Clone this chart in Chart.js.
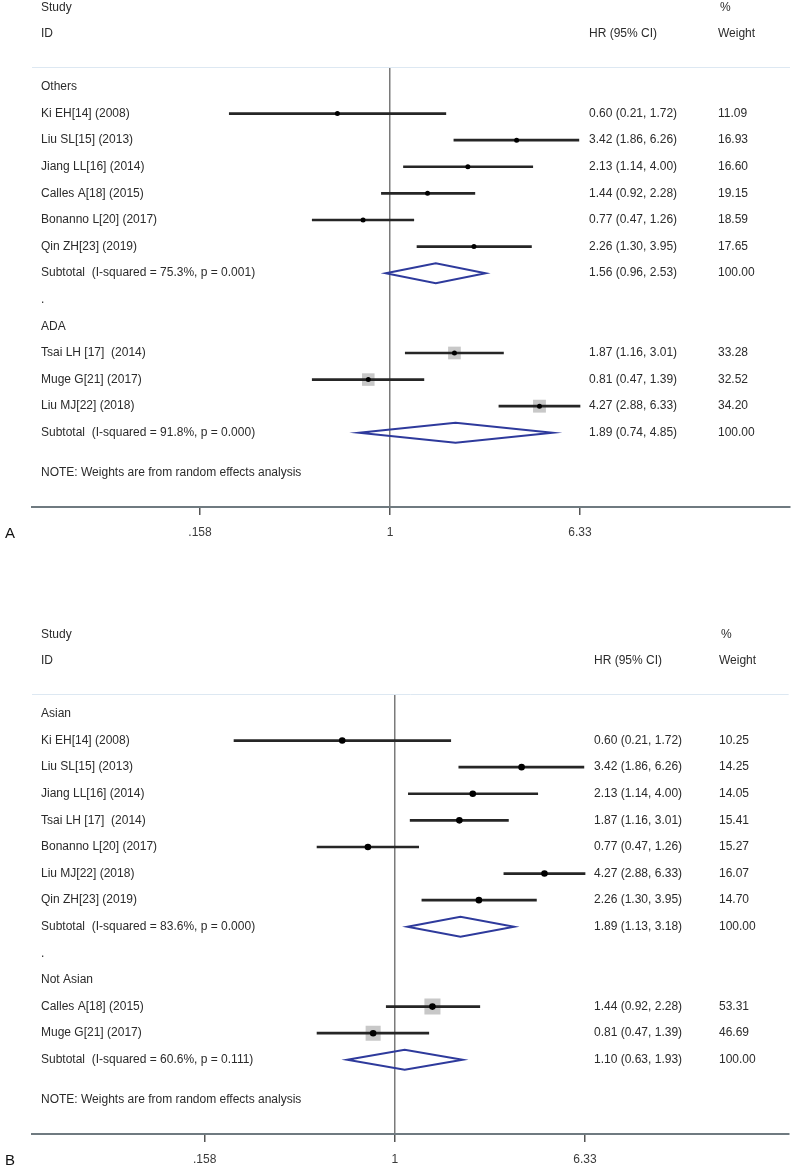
<!DOCTYPE html>
<html>
<head>
<meta charset="utf-8">
<script src="https://cdn.jsdelivr.net/npm/chart.js@4.4.0/dist/chart.umd.min.js"></script>
<style>
  body { margin: 0; background: #fff; width: 800px; height: 1170px; overflow: hidden; position: relative; }
  canvas { position: absolute; left: 0; }
  #chartA { top: 0; }
  #chartB { top: 627px; }
</style>
</head>
<body>
<canvas id="chartA" width="800" height="543"></canvas>
<canvas id="chartB" width="800" height="543"></canvas>
<script>
// panel A : subgroup by criteria
var groupsA = ['Others', 'ADA'];
var studyA = ['Ki EH[14] (2008)', 'Liu SL[15] (2013)', 'Jiang LL[16] (2014)', 'Calles A[18] (2015)',
  'Bonanno L[20] (2017)', 'Qin ZH[23] (2019)', 'Tsai LH [17]  (2014)', 'Muge G[21] (2017)', 'Liu MJ[22] (2018)'];
var groupOfA = [0, 0, 0, 0, 0, 0, 1, 1, 1];
var hrA = [0.60, 3.42, 2.13, 1.44, 0.77, 2.26, 1.87, 0.81, 4.27];
var loA = [0.21, 1.86, 1.14, 0.92, 0.47, 1.30, 1.16, 0.47, 2.88];
var hiA = [1.72, 6.26, 4.00, 2.28, 1.26, 3.95, 3.01, 1.39, 6.33];
var weightA = [11.09, 16.93, 16.60, 19.15, 18.59, 17.65, 33.28, 32.52, 34.20];
var subLabelA = ['Subtotal  (I-squared = 75.3%, p = 0.001)', 'Subtotal  (I-squared = 91.8%, p = 0.000)'];
var subHrA = [1.56, 1.89];
var subLoA = [0.96, 0.74];
var subHiA = [2.53, 4.85];

// panel B : subgroup by ethnicity
var groupsB = ['Asian', 'Not Asian'];
var studyB = ['Ki EH[14] (2008)', 'Liu SL[15] (2013)', 'Jiang LL[16] (2014)', 'Tsai LH [17]  (2014)',
  'Bonanno L[20] (2017)', 'Liu MJ[22] (2018)', 'Qin ZH[23] (2019)', 'Calles A[18] (2015)', 'Muge G[21] (2017)'];
var groupOfB = [0, 0, 0, 0, 0, 0, 0, 1, 1];
var hrB = [0.60, 3.42, 2.13, 1.87, 0.77, 4.27, 2.26, 1.44, 0.81];
var loB = [0.21, 1.86, 1.14, 1.16, 0.47, 2.88, 1.30, 0.92, 0.47];
var hiB = [1.72, 6.26, 4.00, 3.01, 1.26, 6.33, 3.95, 2.28, 1.39];
var weightB = [10.25, 14.25, 14.05, 15.41, 15.27, 16.07, 14.70, 53.31, 46.69];
var subLabelB = ['Subtotal  (I-squared = 83.6%, p = 0.000)', 'Subtotal  (I-squared = 60.6%, p = 0.111)'];
var subHrB = [1.89, 1.10];
var subLoB = [1.13, 0.63];
var subHiB = [3.18, 1.93];

var axisTicks = [0.158, 1, 6.33];
var noteText = 'NOTE: Weights are from random effects analysis';

var FONT = '12px Arial, "Liberation Sans", sans-serif';
var TXT = '#2b2b2b';

function layoutRows(groups, groupOf) {
  var r = 0, out = { group: [], study: [], sub: [], dot: [] };
  groups.forEach(function (g, gi) {
    if (gi > 0) { out.dot.push(r); r++; }
    out.group.push(r); r++;
    groupOf.forEach(function (k, i) { if (k === gi) { out.study[i] = r; r++; } });
    out.sub.push(r); r++;
  });
  out.note = r + 0.5;
  return out;
}

function ci(h, l, u) {
  return h.toFixed(2) + ' (' + l.toFixed(2) + ', ' + u.toFixed(2) + ')';
}

function makeForest(id, p) {
  var rows = layoutRows(p.groups, p.groupOf);
  var ciData = p.hr.map(function (h, i) { return { x: [p.lo[i], p.hi[i]], y: rows.study[i] }; });
  var ptData = p.hr.map(function (h, i) { return { x: h, y: rows.study[i] }; });
  // gray weight boxes, side ~ sqrt(weight); only the large ones show in the figure
  var boxR = p.weight.map(function (w) { return w > 30 ? Math.sqrt(w) * 2.2 / Math.SQRT2 : 0; });

  var table = {
    id: 'table' + id,
    afterDatasetsDraw: function (chart) {
      var x = chart.scales.x, y = chart.scales.y, ctx = chart.ctx;
      ctx.save();
      ctx.strokeStyle = '#2e3a9c';
      ctx.lineWidth = 2;
      ctx.lineJoin = 'miter';
      p.subHr.forEach(function (h, i) {
        var yc = y.getPixelForValue(rows.sub[i]);
        var xl = x.getPixelForValue(p.subLo[i]), xc = x.getPixelForValue(h), xr = x.getPixelForValue(p.subHi[i]);
        ctx.beginPath();
        ctx.moveTo(xl, yc);
        ctx.lineTo(xc, yc - 10);
        ctx.lineTo(xr, yc);
        ctx.lineTo(xc, yc + 10);
        ctx.closePath();
        ctx.stroke();
      });
      ctx.restore();
    },
    afterDraw: function (chart) {
      var y = chart.scales.y, ctx = chart.ctx, area = chart.chartArea;
      ctx.save();
      // light rule under the header
      ctx.strokeStyle = '#dde8f2';
      ctx.lineWidth = 1;
      ctx.beginPath();
      ctx.moveTo(area.left, area.top + 0.5);
      ctx.lineTo(area.right, area.top + 0.5);
      ctx.stroke();

      ctx.font = FONT;
      ctx.fillStyle = TXT;
      ctx.textBaseline = 'middle';
      ctx.textAlign = 'left';
      ctx.fillText('Study', 41, 8);
      ctx.fillText('ID', 41, 34);
      ctx.fillText('HR (95% CI)', p.hrX, 34);
      ctx.fillText('%', p.wtX + 2, 8);
      ctx.fillText('Weight', p.wtX, 34);

      p.groups.forEach(function (g, i) { ctx.fillText(g, 41, y.getPixelForValue(rows.group[i])); });
      rows.dot.forEach(function (r) { ctx.fillText('.', 41, y.getPixelForValue(r)); });
      p.study.forEach(function (s, i) {
        var yy = y.getPixelForValue(rows.study[i]);
        ctx.fillText(s, 41, yy);
        ctx.fillText(ci(p.hr[i], p.lo[i], p.hi[i]), p.hrX, yy);
        ctx.fillText(p.weight[i].toFixed(2), p.wtX, yy);
      });
      p.subLabel.forEach(function (s, i) {
        var yy = y.getPixelForValue(rows.sub[i]);
        ctx.fillText(s, 41, yy);
        ctx.fillText(ci(p.subHr[i], p.subLo[i], p.subHi[i]), p.hrX, yy);
        ctx.fillText('100.00', p.wtX, yy);
      });
      ctx.fillText(noteText, 41, y.getPixelForValue(rows.note));

      ctx.font = '15px Arial, "Liberation Sans", sans-serif';
      ctx.fillStyle = '#111';
      ctx.fillText(p.letter, 5, 534);
      ctx.restore();
    }
  };

  return new Chart(id, {
    type: 'bar',
    data: {
      datasets: [{
        type: 'scatter',
        data: ptData,
        pointStyle: 'circle',
        pointRadius: p.dotR,
        backgroundColor: '#000',
        borderWidth: 0
      }, {
        type: 'bar',
        indexAxis: 'y',
        data: ciData,
        backgroundColor: '#262626',
        barThickness: 2,
        borderWidth: 0,
        borderSkipped: false
      }, {
        type: 'scatter',
        data: ptData,
        pointStyle: 'rect',
        pointRadius: boxR,
        backgroundColor: '#c8c8c8',
        borderWidth: 0
      }]
    },
    options: {
      responsive: false,
      animation: false,
      events: [],
      indexAxis: 'y',
      layout: { padding: { top: 67, left: 32, right: 10, bottom: 6 } },
      plugins: { legend: { display: false }, tooltip: { enabled: false } },
      scales: {
        x: {
          type: 'logarithmic',
          position: 'bottom',
          min: p.min,
          max: p.max,
          afterBuildTicks: function (scale) {
            scale.ticks = axisTicks.map(function (v) { return { value: v }; });
          },
          afterFit: function (scale) { scale.height = 30; },
          ticks: {
            autoSkip: false,
            maxRotation: 0,
            padding: 10,
            color: '#3a3a3a',
            font: { family: 'Arial, "Liberation Sans", sans-serif', size: 12 },
            callback: function (v) { return v < 1 ? String(v).replace(/^0/, '') : String(v); }
          },
          grid: {
            drawTicks: true,
            tickLength: 8,
            tickColor: '#555',
            lineWidth: 1.5,
            color: function (c) { return c.tick && c.tick.value === 1 ? '#7a7a7a' : 'rgba(0,0,0,0)'; }
          },
          border: { display: true, color: '#6f7a80', width: 2 }
        },
        y: {
          type: 'linear',
          display: false,
          reverse: true,
          offset: false,
          grace: 0,
          min: -0.75,
          max: 15.79
        }
      }
    },
    plugins: [table]
  });
}

makeForest('chartA', {
  groups: groupsA, groupOf: groupOfA, study: studyA, hr: hrA, lo: loA, hi: hiA, weight: weightA,
  subLabel: subLabelA, subHr: subHrA, subLo: subLoA, subHi: subHiA,
  min: 0.03092, max: 48.64, hrX: 589, wtX: 718, dotR: 2.5, letter: 'A'
});

makeForest('chartB', {
  groups: groupsB, groupOf: groupOfB, study: studyB, hr: hrB, lo: loB, hi: hiB, weight: weightB,
  subLabel: subLabelB, subHr: subHrB, subLo: subLoB, subHi: subHiB,
  min: 0.02958, max: 45.64, hrX: 594, wtX: 719, dotR: 3.3, letter: 'B'
});
</script>
</body>
</html>
